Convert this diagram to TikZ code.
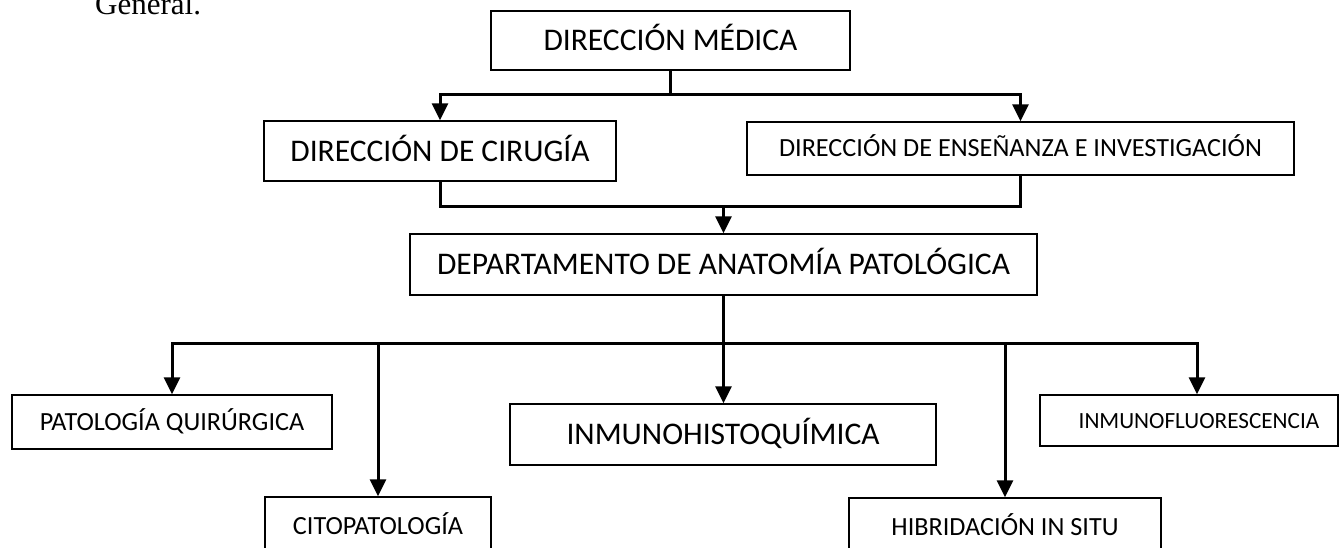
\documentclass[tikz,border=0pt]{standalone}
\usepackage{fontspec}
\setmainfont{Carlito}
\newfontfamily\timesfont{Liberation Serif}
\usetikzlibrary{arrows.meta}
\begin{document}
\begin{tikzpicture}[x=1pt,y=-1pt,
  boxbase/.style={draw=black,line width=1.4pt,rectangle,inner sep=0pt,text depth=0pt},
  bigbox/.style={boxbase,text height=20.3pt,font=\fontsize{31.5}{34}\selectfont},
  smallbox/.style={boxbase,text height=16.9pt,font=\fontsize{26.2}{30}\selectfont},
  tinybox/.style={boxbase,text height=15pt,font=\fontsize{23.2}{27}\selectfont},
  ln/.style={line width=3pt,line join=miter},
  arr/.style={ln,-{Triangle[length=17pt,width=16pt]}}]
\useasboundingbox (0,0) rectangle (1339,548);
\node[font=\timesfont\fontsize{31}{31}\selectfont,anchor=base west,inner sep=0pt] (gen) at (95,15) {General.};
\node[bigbox,minimum width=359pt,minimum height=59pt] (top) at (670.5,40.5) {DIRECCIÓN MÉDICA};
\node[bigbox,minimum width=352pt,minimum height=60pt] (cir) at (440,151) {DIRECCIÓN DE CIRUGÍA};
\node[smallbox,minimum width=547pt,minimum height=53pt] (ens) at (1020.5,148.5) {DIRECCIÓN DE ENSEÑANZA E INVESTIGACIÓN};
\node[bigbox,minimum width=627pt,minimum height=61pt] (dept) at (723.5,264.5) {DEPARTAMENTO DE ANATOMÍA PATOLÓGICA};
\node[smallbox,minimum width=320pt,minimum height=54pt] (pat) at (172,422) {PATOLOGÍA QUIRÚRGICA};
\node[smallbox,minimum width=226pt,minimum height=59pt] (cito) at (378,526.5) {CITOPATOLOGÍA};
\node[bigbox,minimum width=426pt,minimum height=61pt] (inm) at (723,434.5) {INMUNOHISTOQUÍMICA};
\node[smallbox,minimum width=312pt,minimum height=59pt] (hib) at (1005,527.5) {HIBRIDACIÓN IN SITU};
\node[tinybox,minimum width=298pt,minimum height=51pt] (flu) at (1189,420.5) {\hspace*{20pt}INMUNOFLUORESCENCIA};
\coordinate (b1) at (670.5,95);
\coordinate (b2) at (723.5,207);
\coordinate (b3) at (723.5,343);
\draw[ln] (top.south) -- (b1);
\draw[arr] (b1) -| (cir.north);
\draw[arr] (b1) -| (ens.north);
\draw[ln] (cir.south) -- (cir.south |- b2) -- (ens.south |- b2) -- (ens.south);
\draw[arr] (b2) -- (dept.north);
\draw[ln] (dept.south) -- (b3);
\draw[arr] (b3) -| (pat.north);
\draw[arr] (b3) -| (cito.north);
\draw[arr] (b3) -- (b3 |- inm.north);
\draw[arr] (b3) -| (hib.north);
\draw[arr] (b3) -| ([xshift=8pt]flu.north);
\end{tikzpicture}
\end{document}
